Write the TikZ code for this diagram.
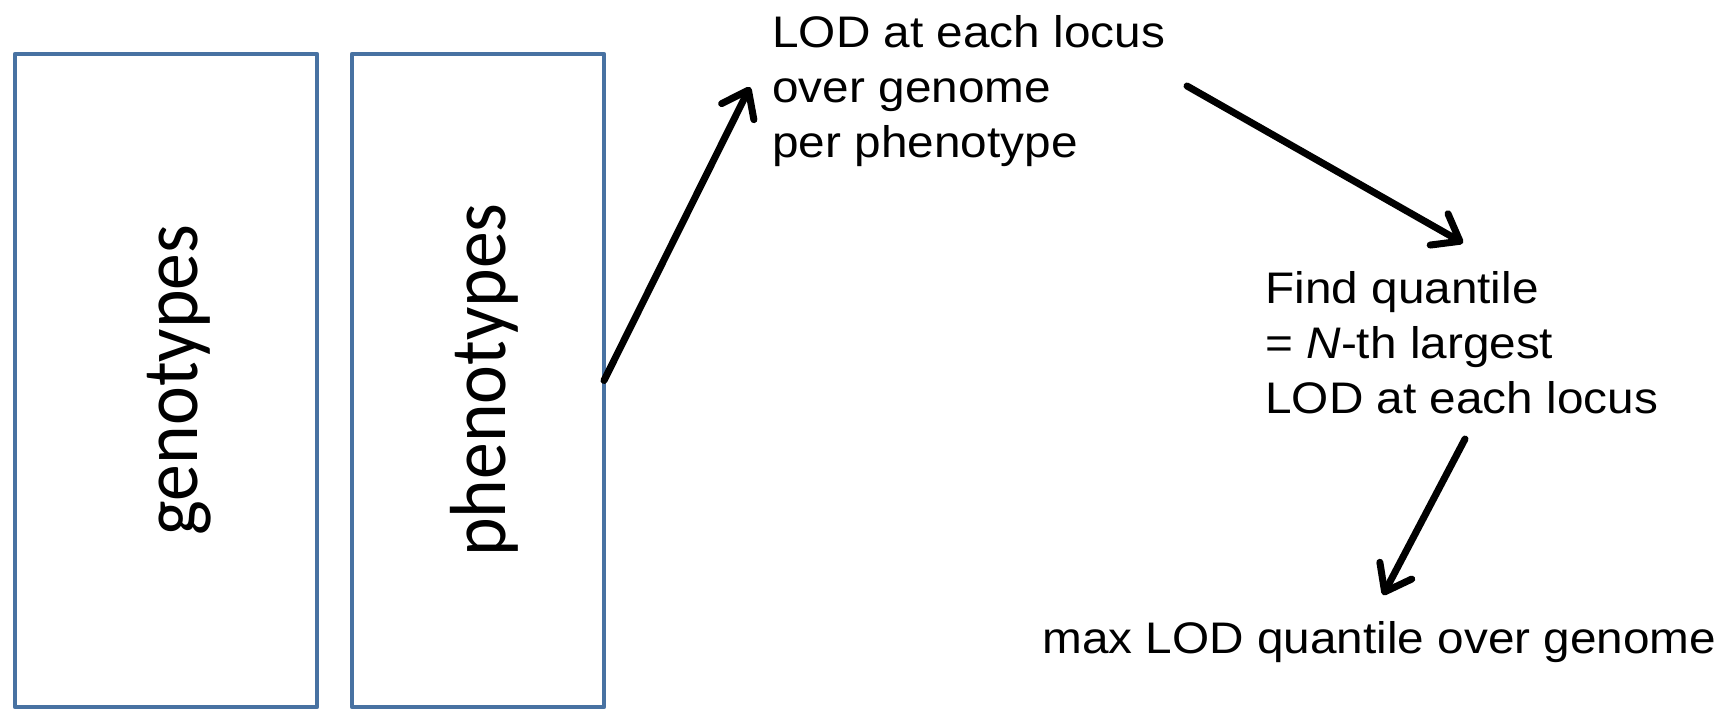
\documentclass[tikz,border=0pt]{standalone}
\usepackage{fontspec}
\setmainfont{Liberation Sans}
\newfontfamily\carlito{Carlito}
\usetikzlibrary{arrows.meta}
\definecolor{boxblue}{RGB}{72,114,162}
\tikzset{
  databox/.style={draw=boxblue, line width=2.3pt, line join=round, inner sep=0pt, outer sep=0pt},
  boxlabel/.style={font=\carlito\fontsize{36.8}{40}\selectfont, xscale=1.08, rotate=90, anchor=base, inner sep=0pt},
  steptext/.style={font=\fontsize{22.1}{27.5}\selectfont, xscale=1.08, align=left, inner sep=0pt},
  conn/.style={line width=3.5pt, line cap=round, line join=round, -{Straight Barb[length=12pt, width=18pt, line cap=round, line join=round]}}
}
\begin{document}
\begin{tikzpicture}[x=0.5pt,y=-0.5pt]
\fill[white] (0,0) rectangle (1735,709);
\useasboundingbox (0,0) rectangle (1735,709);
% boxes
\node[databox, minimum width=151pt, minimum height=326.5pt] (geno) at (166,380.5) {};
\node[databox, minimum width=126pt, minimum height=326.5pt] (pheno) at (478,380.5) {};
\node[boxlabel] (genolabel) at (197,380) {genotypes};
\node[boxlabel] (phenolabel) at (505,380) {phenotypes};
% texts
\node[steptext, anchor=north west] (lod) at (772,15) {LOD at each locus\\over genome\\per phenotype};
\node[steptext, anchor=north west] (quant) at (1265,271) {Find quantile\\= \textit{N}-th largest\\LOD at each locus};
\node[steptext, anchor=base west] (maxq) at (1042,653) {max LOD quantile over genome};
% arrow ends
\coordinate (a1end) at (750,87);
\coordinate (a2start) at (1187,86);
\coordinate (a2end) at (1463,243);
\coordinate (a3start) at (1465,439);
\coordinate (a3end) at (1383,595);
\draw[conn] (pheno.east) -- (a1end);
\draw[conn] (a2start) -- (a2end);
\draw[conn] (a3start) -- (a3end);
\end{tikzpicture}
\end{document}
